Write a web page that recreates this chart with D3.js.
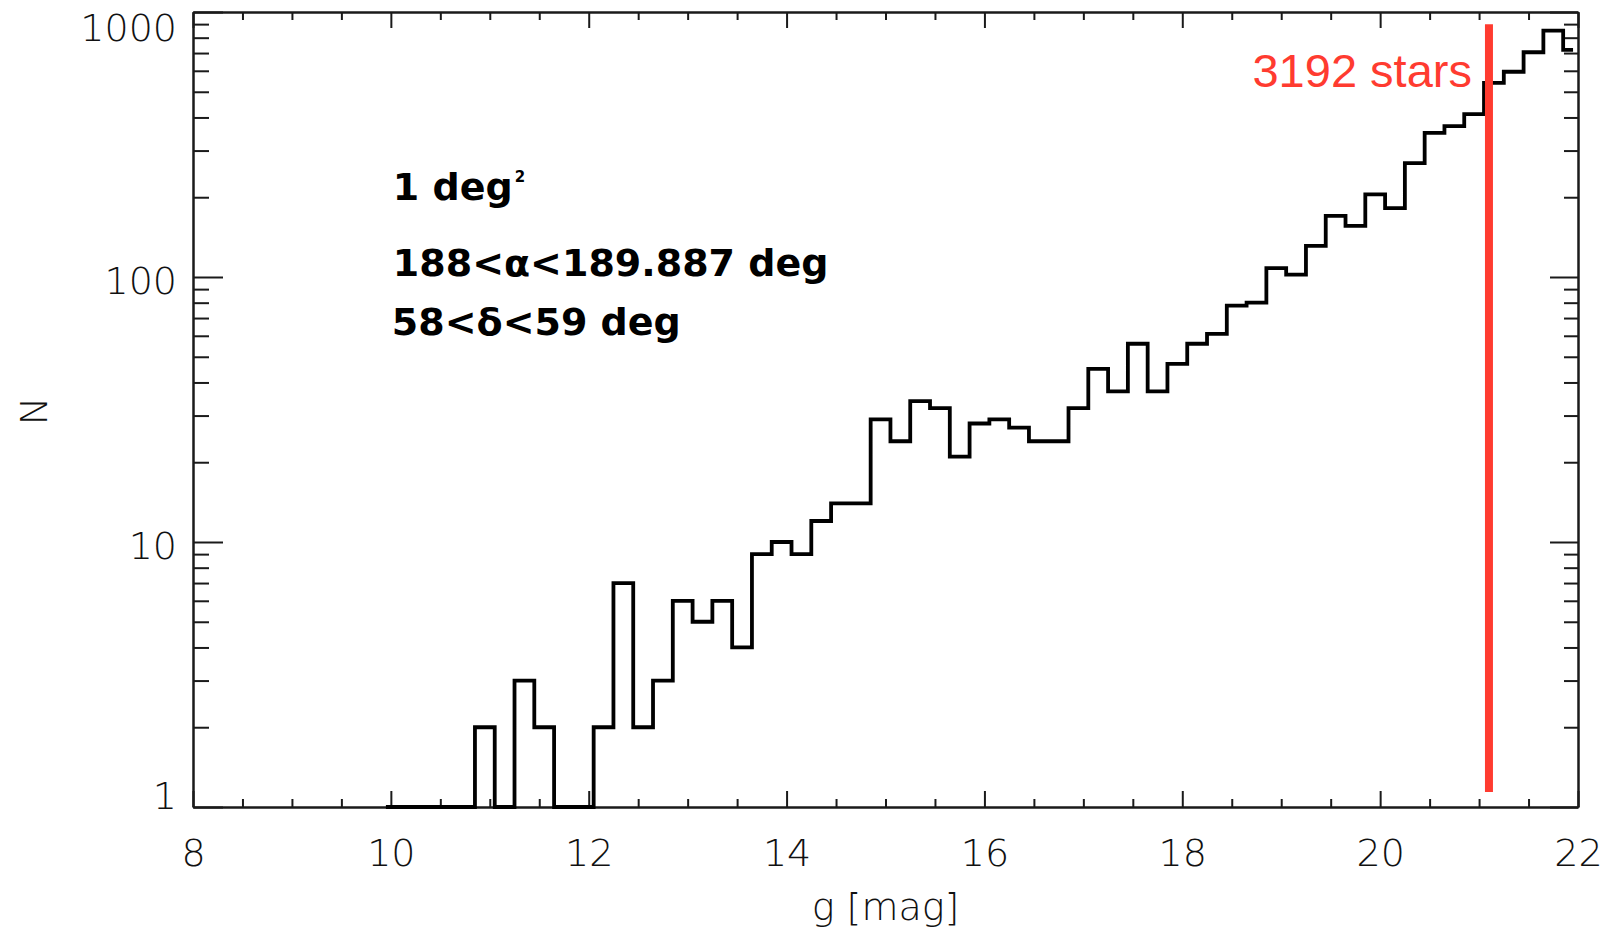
<!DOCTYPE html>
<html>
<head>
<meta charset="utf-8">
<script src="https://cdn.jsdelivr.net/npm/d3@7"></script>
<style>
  body { margin: 0; background: #fff; }
  svg { display: block; background: #fff; }
  .axis path, .axis line { stroke: #1a1a1a; stroke-width: 2; }
  .axis text, .label { font-family: "DejaVu Sans", sans-serif; font-weight: 200; font-size: 38px; fill: #111; }
  .note { font-family: "DejaVu Sans", sans-serif; font-weight: bold; font-size: 38px; fill: #000; }
  .cut { font-family: "Liberation Sans", Arial, sans-serif; font-size: 47px; fill: #ff3b30; }
</style>
</head>
<body>
<svg width="1610" height="932"></svg>
<script>
// bin centres (g mag) and star counts per 0.2 mag bin
var gBins = [9.95, 10.15, 10.35, 10.55, 10.75, 10.95, 11.15, 11.35, 11.55, 11.75,
             11.95, 12.15, 12.35, 12.55, 12.75, 12.95, 13.15, 13.35, 13.55, 13.75,
             13.95, 14.15, 14.35, 14.55, 14.75, 14.95, 15.15, 15.35, 15.55, 15.75,
             15.95, 16.15, 16.35, 16.55, 16.75, 16.95, 17.15, 17.35, 17.55, 17.75,
             17.95, 18.15, 18.35, 18.55, 18.75, 18.95, 19.15, 19.35, 19.55, 19.75,
             19.95, 20.15, 20.35, 20.55, 20.75, 20.95, 21.15, 21.35, 21.55, 21.75,
             21.95];
var counts = [1, 1, 1, 1, 1, 2, 1, 3, 2, 1,
              1, 2, 7, 2, 3, 6, 5, 6, 4, 9,
              10, 9, 12, 14, 14, 29, 24, 34, 32, 21,
              28, 29, 27, 24, 24, 32, 45, 37, 56, 37,
              47, 56, 61, 78, 80, 108, 102, 131, 170, 156,
              205, 182, 269, 350, 371, 412, 540, 595, 705, 850,
              720];

var xMajor = [8, 10, 12, 14, 16, 18, 20, 22];
var xMinor = [8.5, 9, 9.5, 10.5, 11, 11.5, 12.5, 13, 13.5, 14.5, 15, 15.5,
              16.5, 17, 17.5, 18.5, 19, 19.5, 20.5, 21, 21.5];
var yMajor = [1, 10, 100, 1000];
var yMinor = [2, 3, 4, 5, 6, 7, 8, 9, 20, 30, 40, 50, 60, 70, 80, 90,
              200, 300, 400, 500, 600, 700, 800, 900];

var noteLines = ["1 deg", "188<α<189.887 deg", "58<δ<59 deg"];
var cutMag = 21.1, cutLow = 1.14, cutHigh = 900;
var cutLabel = "3192 stars";

var svg = d3.select("svg"),
    margin = {top: 12, right: 32, bottom: 125, left: 193},
    width = +svg.attr("width") - margin.left - margin.right,
    height = +svg.attr("height") - margin.top - margin.bottom;

var x = d3.scaleLinear().domain([8, 22]).range([0, width]),
    y = d3.scaleLog().domain([1, 1000]).range([height, 0]);

var g = svg.append("g")
    .attr("transform", "translate(" + margin.left + "," + margin.top + ")");

// ticks point inward on all four sides
g.append("g").attr("class", "axis")
    .attr("transform", "translate(0," + height + ")")
    .call(d3.axisBottom(x).tickValues(xMinor).tickSize(-8).tickSizeOuter(0).tickFormat(""));
g.append("g").attr("class", "axis")
    .attr("transform", "translate(0," + height + ")")
    .call(d3.axisBottom(x).tickValues(xMajor).tickSize(-16).tickSizeOuter(0)
      .tickPadding(32).tickFormat(d3.format("d")));
g.append("g").attr("class", "axis")
    .call(d3.axisTop(x).tickValues(xMinor).tickSize(-8).tickSizeOuter(0).tickFormat(""));
g.append("g").attr("class", "axis")
    .call(d3.axisTop(x).tickValues(xMajor).tickSize(-16).tickSizeOuter(0).tickFormat(""));

g.append("g").attr("class", "axis")
    .call(d3.axisLeft(y).tickValues(yMinor).tickSize(-16).tickSizeOuter(0).tickFormat(""));
var yAxis = g.append("g").attr("class", "axis")
    .call(d3.axisLeft(y).tickValues(yMajor).tickSize(-30).tickSizeOuter(0)
      .tickPadding(16).tickFormat(d3.format("d")));
g.append("g").attr("class", "axis")
    .attr("transform", "translate(" + width + ",0)")
    .call(d3.axisRight(y).tickValues(yMinor).tickSize(-14).tickSizeOuter(0).tickFormat(""));
g.append("g").attr("class", "axis")
    .attr("transform", "translate(" + width + ",0)")
    .call(d3.axisRight(y).tickValues(yMajor).tickSize(-28).tickSizeOuter(0).tickFormat(""));

g.selectAll(".axis text").attr("fill", "#111");

// IDL keeps end labels inside the axis span
yAxis.selectAll("text")
    .attr("dy", "0.36em")
    .attr("y", function(d) {
      var c = Math.max(15, Math.min(height - 12, y(d) + 3));
      return c - y(d);
    });

// psym=10 style histogram steps
var pts = [];
gBins.forEach(function(c, i) {
  var lo = i === 0 ? c : (gBins[i - 1] + c) / 2,
      hi = i === gBins.length - 1 ? c : (c + gBins[i + 1]) / 2;
  pts.push([lo, counts[i]], [hi, counts[i]]);
});

var line = d3.line()
    .x(function(d) { return x(d[0]); })
    .y(function(d) { return y(d[1]); });

g.append("path")
    .datum(pts)
    .attr("fill", "none")
    .attr("stroke", "#000")
    .attr("stroke-width", 3.8)
    .attr("stroke-linejoin", "miter")
    .attr("d", line);

// magnitude cut
g.append("line")
    .attr("x1", x(cutMag)).attr("x2", x(cutMag))
    .attr("y1", y(cutLow)).attr("y2", y(cutHigh))
    .attr("stroke", "#ff3b30")
    .attr("stroke-width", 8);

g.append("text")
    .attr("class", "cut")
    .attr("x", x(cutMag) - 17)
    .attr("y", 75)
    .attr("text-anchor", "end")
    .text(cutLabel);

// field annotation
var notes = g.append("g").attr("class", "note");
var n0 = notes.append("text").attr("x", x(10) + 2).attr("y", 188);
n0.append("tspan").text(noteLines[0]);
n0.append("tspan").attr("font-size", 15).attr("dy", -18).attr("dx", 2).text("2");
notes.append("text").attr("x", x(10) + 2).attr("y", 264).text(noteLines[1]);
notes.append("text").attr("x", x(10) + 1).attr("y", 323).text(noteLines[2]);

// axis titles
svg.append("text")
    .attr("class", "label")
    .attr("transform", "translate(47,411) rotate(-90)")
    .attr("text-anchor", "middle")
    .attr("font-size", 40)
    .text("N");

svg.append("text")
    .attr("class", "label")
    .attr("x", margin.left + width / 2)
    .attr("y", 920)
    .attr("text-anchor", "middle")
    .text("g [mag]");
</script>
</body>
</html>
